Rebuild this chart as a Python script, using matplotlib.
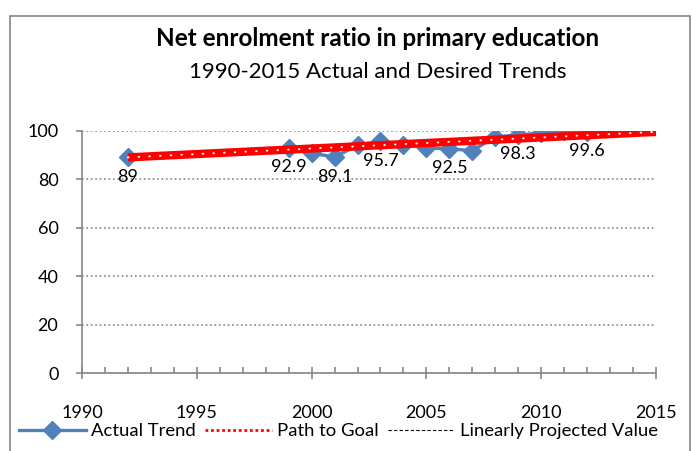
import matplotlib
matplotlib.use("Agg")
import matplotlib.pyplot as plt
from matplotlib.patches import Rectangle
from matplotlib.ticker import MultipleLocator

plt.rcParams['font.family'] = ['Lato', 'DejaVu Sans']

# data
years = [1992, 1999, 2000, 2001, 2002, 2003, 2004, 2005, 2006, 2007, 2008, 2009, 2010, 2011, 2012]
actual = [89, 92.9, 90.8, 89.1, 94.0, 95.7, 94.2, 92.9, 92.5, 91.8, 97.4, 98.3, 99.0, 100.0, 99.6]
label_years = [1992, 1999, 2001, 2003, 2006, 2009, 2012]
goal_years = [1992, 2015]
goal_values = [89, 99.5]

blue = '#4F81BD'
grey = '#868686'

fig = plt.figure(figsize=(6.92, 4.51), dpi=100)
ax = fig.add_axes([82/692, 1 - 373.3/451, 574/692, 242.6/451])

# outer chart frame
fig.add_artist(Rectangle((10/692, -0.1), 680/692, 1 - 16/451 + 0.1,
                         transform=fig.transFigure, fill=False,
                         edgecolor=grey, lw=1.2, clip_on=False))

ax.plot(years, actual, color=blue, lw=2.4, marker='D', markersize=9,
        label='Actual Trend', zorder=3)
ax.plot(goal_years, goal_values, color='red', lw=6, solid_capstyle='butt', zorder=4)
ax.plot(goal_years, goal_values, color='white', lw=1.4, linestyle=(0, (0.3, 5.2)),
        dash_capstyle='round', zorder=5)
ax.plot([], [], color='red', lw=2, linestyle=(0, (1, 1)), label='Path to Goal')
ax.plot([], [], color='black', lw=0.8, linestyle=(0, (3, 2)), label='Linearly Projected Value')

for x, y in zip(years, actual):
    if x in label_years:
        ax.annotate('%g' % y, (x, y), xytext=(0, -14), textcoords='offset points',
                    ha='center', va='center', fontsize=13)

ax.set_xlim(1990, 2015)
ax.set_ylim(0, 100)
ax.xaxis.set_major_locator(MultipleLocator(5))
ax.xaxis.set_minor_locator(MultipleLocator(1))
ax.yaxis.set_major_locator(MultipleLocator(20))
ax.yaxis.grid(True, linestyle=':', color=grey, lw=1.2)
ax.set_axisbelow(True)

for s in ['top', 'right']:
    ax.spines[s].set_visible(False)
for s in ['left', 'bottom']:
    ax.spines[s].set_color(grey)
    ax.spines[s].set_linewidth(1.2)

ax.tick_params(axis='x', which='major', direction='inout', length=9, color=grey,
               width=1.2, labelsize=13, pad=18)
ax.tick_params(axis='x', which='minor', direction='in', length=4, color=grey, width=1.2)
ax.tick_params(axis='y', direction='out', length=4, color=grey, width=1.2,
               labelsize=13, pad=13)

fig.text(378/692, 1 - 38/451, 'Net enrolment ratio in primary education',
         ha='center', va='center', fontsize=17.5, fontweight='bold')
fig.text(378/692, 1 - 72/451, '1990-2015 Actual and Desired Trends',
         ha='center', va='center', fontsize=16)

fig.legend(loc='center left', bbox_to_anchor=(19/692, 1 - 431/451), ncol=3,
           frameon=False, fontsize=13.3, handlelength=3.6, handletextpad=0.3,
           columnspacing=0.5, borderaxespad=0, borderpad=0)

fig.savefig('out.png', dpi=100)
